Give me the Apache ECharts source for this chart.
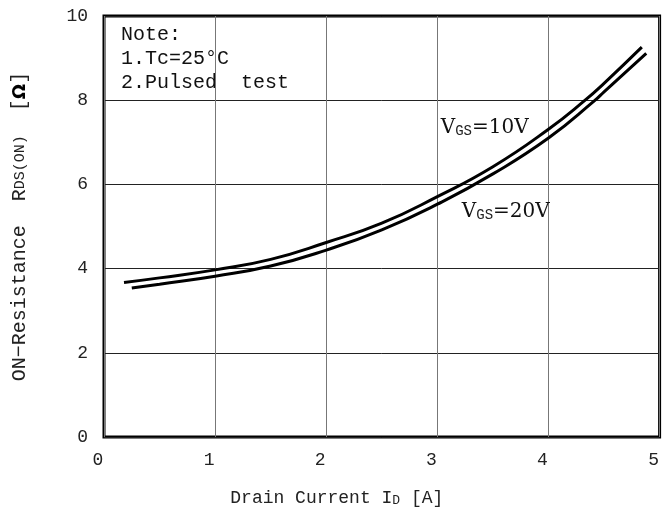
<!DOCTYPE html>
<html>
<head>
<meta charset="utf-8">
<script src="https://cdn.jsdelivr.net/npm/echarts@6/dist/echarts.min.js"></script>
<style>
  html, body { margin: 0; padding: 0; background: #fff; }
  #chart { width: 662px; height: 515px; }
</style>
</head>
<body>
<div id="chart"></div>
<script>
// drain current [A] vs on-resistance
const vgs10 = [[0.18, 3.67], [0.5, 3.78], [1, 3.97], [1.5, 4.22], [2, 4.62], [2.5, 5.08],
               [3, 5.71], [3.5, 6.42], [4, 7.31], [4.33, 8.0], [4.5, 8.4], [4.84, 9.26]];
const vgs20 = [[0.25, 3.54], [0.5, 3.63], [1, 3.82], [1.5, 4.06], [2, 4.44], [2.5, 4.92],
               [3, 5.53], [3.5, 6.25], [4, 7.10], [4.42, 8.0], [4.5, 8.2], [4.88, 9.11]];
const xTicks = [0, 1, 2, 3, 4, 5];
const yTicks = [0, 2, 4, 6, 8, 10];
const noteLines = ['Note:', '1.Tc=25°C', '2.Pulsed  test'];

const monoFont = 'Liberation Mono';
const serifFont = 'DejaVu Serif';

const subStyle = (size) => ({ fontFamily: monoFont, fontSize: size, color: '#222', verticalAlign: 'bottom' });

const getOption = () => {
    return {
        animation: false,
        backgroundColor: '#fff',
        grid: {
            left: 104,
            right: 2,
            top: 16,
            bottom: 78,
            show: true,
            borderColor: '#000',
            borderWidth: 3
        },
        xAxis: {
            type: 'value',
            min: xTicks[0],
            max: xTicks[xTicks.length - 1],
            interval: 1,
            name: 'Drain Current I{s|D} [A]',
            nameLocation: 'middle',
            nameGap: 52,
            nameTextStyle: {
                color: '#222',
                fontFamily: monoFont,
                fontSize: 18,
                padding: [0, 90, 0, 0],
                rich: { s: subStyle(13) }
            },
            axisLine: { show: false },
            axisTick: { show: false },
            axisLabel: {
                color: '#222',
                fontFamily: monoFont,
                fontSize: 18,
                margin: 14,
                padding: [0, 12, 0, 0]
            },
            splitLine: { show: true, lineStyle: { color: '#777', width: 1 } }
        },
        yAxis: {
            type: 'value',
            min: yTicks[0],
            max: yTicks[yTicks.length - 1],
            interval: 2,
            name: 'ON\u2212Resistance  R{s|DS(ON)}  [{b|Ω}]',
            nameLocation: 'middle',
            nameGap: 74,
            nameTextStyle: {
                color: '#222',
                fontFamily: monoFont,
                fontSize: 20,
                rich: {
                    s: { fontFamily: monoFont, fontSize: 15, color: '#222' },
                    b: { fontFamily: 'DejaVu Sans', fontSize: 18, fontWeight: 'bold', color: '#000' }
                }
            },
            axisLine: { show: false },
            axisTick: { show: false },
            axisLabel: {
                color: '#222',
                fontFamily: monoFont,
                fontSize: 18,
                margin: 16,
                padding: [0, 0, 8, 0]
            },
            splitLine: { show: true, lineStyle: { color: '#222', width: 1 } }
        },
        graphic: [
            {
                type: 'text',
                left: 121,
                top: 23,
                style: {
                    text: noteLines.join('\n'),
                    fontFamily: monoFont,
                    fontSize: 20,
                    lineHeight: 24,
                    fill: '#111'
                }
            }
        ],
        series: [
            {
                name: 'VGS=10V',
                type: 'line',
                data: vgs10,
                smooth: true,
                symbol: 'none',
                lineStyle: { color: '#000', width: 3 },
                markPoint: {
                    symbolSize: 0,
                    data: [{ coord: [3.03, 7.34] }],
                    label: {
                        show: true,
                        position: 'right',
                        distance: 0,
                        formatter: 'V{s|GS}=10V',
                        color: '#111',
                        fontFamily: serifFont,
                        fontSize: 20,
                        rich: { s: subStyle(14) }
                    }
                }
            },
            {
                name: 'VGS=20V',
                type: 'line',
                data: vgs20,
                smooth: true,
                symbol: 'none',
                lineStyle: { color: '#000', width: 3 },
                markPoint: {
                    symbolSize: 0,
                    data: [{ coord: [3.22, 5.34] }],
                    label: {
                        show: true,
                        position: 'right',
                        distance: 0,
                        formatter: 'V{s|GS}=20V',
                        color: '#111',
                        fontFamily: serifFont,
                        fontSize: 20,
                        rich: { s: subStyle(14) }
                    }
                }
            }
        ]
    };
};

const chart = echarts.init(document.getElementById('chart'));
chart.setOption(getOption());
</script>
</body>
</html>
